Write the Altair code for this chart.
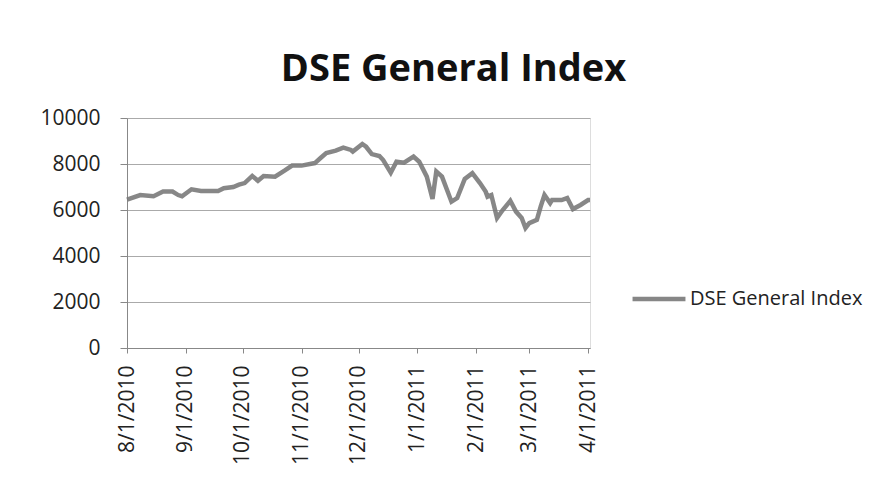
import altair as alt
import pandas as pd

dates = [
    "2010-08-01", "2010-08-08", "2010-08-15", "2010-08-20", "2010-08-25", "2010-08-28",
    "2010-08-30", "2010-09-04", "2010-09-09", "2010-09-18", "2010-09-21", "2010-09-26",
    "2010-09-29", "2010-10-02", "2010-10-06", "2010-10-09", "2010-10-12", "2010-10-18",
    "2010-10-23", "2010-10-27", "2010-11-01", "2010-11-08", "2010-11-11", "2010-11-14",
    "2010-11-19", "2010-11-23", "2010-11-27", "2010-11-28", "2010-12-03", "2010-12-05",
    "2010-12-08", "2010-12-12", "2010-12-14", "2010-12-18", "2010-12-21", "2010-12-25",
    "2010-12-30", "2011-01-02", "2011-01-06", "2011-01-09", "2011-01-11", "2011-01-14",
    "2011-01-19", "2011-01-22", "2011-01-26", "2011-01-30", "2011-02-03", "2011-02-06",
    "2011-02-07", "2011-02-09", "2011-02-12", "2011-02-15", "2011-02-19", "2011-02-22",
    "2011-02-25", "2011-02-27", "2011-03-01", "2011-03-05", "2011-03-07", "2011-03-09",
    "2011-03-12", "2011-03-13", "2011-03-18", "2011-03-21", "2011-03-24", "2011-03-28",
    "2011-04-01", "2011-04-02",
]
values = [
    6450, 6650, 6600, 6800, 6800, 6650,
    6600, 6900, 6830, 6830, 6950, 7000,
    7100, 7170, 7480, 7270, 7480, 7450,
    7710, 7930, 7930, 8040, 8260, 8480,
    8580, 8710, 8610, 8540, 8870, 8750,
    8430, 8350, 8170, 7620, 8100, 8060,
    8320, 8100, 7450, 6480, 7670, 7450,
    6360, 6520, 7350, 7600, 7170, 6800,
    6580, 6650, 5650, 6000, 6400, 5930,
    5650, 5220, 5430, 5570, 6150, 6650,
    6300, 6430, 6430, 6520, 6040, 6220,
    6430, 6430,
]
series_name = "DSE General Index"
tick_dates = [(2010, 8), (2010, 9), (2010, 10), (2010, 11), (2010, 12),
              (2011, 1), (2011, 2), (2011, 3), (2011, 4)]
y_ticks = [0, 2000, 4000, 6000, 8000, 10000]

df = pd.DataFrame({"date": dates, "value": values, "series": series_name})

FONT = "Open Sans"

x_axis = alt.Axis(
    values=[alt.DateTime(year=y, month=m, date=1, utc=True) for y, m in tick_dates],
    format="%-m/%-d/%Y",
    labelAngle=-90,
    labelFontSize=21,
    labelColor="#222222",
    labelFont=FONT,
    tickSize=5,
    tickColor="#888888",
    domainColor="#888888",
    labelPadding=12,
    grid=False,
    title=None,
)
y_axis = alt.Axis(
    values=y_ticks,
    format="d",
    labelFontSize=21,
    labelColor="#222222",
    labelFont=FONT,
    tickSize=7,
    tickColor="#888888",
    domainColor="#888888",
    labelPadding=20,
    gridColor="#aaaaaa",
    gridWidth=1,
    title=None,
)

chart = alt.Chart(df).mark_line(strokeWidth=4.5, opacity=0.9).encode(
    x=alt.X("date:T", axis=x_axis,
            scale=alt.Scale(type="utc", domain=[alt.DateTime(year=2010, month=8, date=1, utc=True),
                                               alt.DateTime(year=2011, month=4, date=2, utc=True)])),
    y=alt.Y("value:Q", axis=y_axis, scale=alt.Scale(domain=[0, 10000])),
    color=alt.Color("series:N", scale=alt.Scale(range=["#7a7a7a"]),
                    legend=alt.Legend(
                        title=None, orient="none", legendX=503, legendY=152,
                        symbolType="stroke", symbolSize=2800, symbolStrokeWidth=4.5,
                        labelFontSize=20, labelFont=FONT, labelColor="#222222",
                        labelLimit=400, labelOffset=2)),
).properties(
    width=463,
    height=230,
    autosize=alt.AutoSizeParams(type="none"),
    padding={"left": 119, "top": 110, "right": 280, "bottom": 140},
    title=alt.Title(series_name, fontSize=38, font=FONT, fontWeight="bold",
                    color="#111111", anchor="middle", dx=95, offset=18),
).configure_view(stroke=None).configure(background="white")

chart.save("out.html", embed_options={"renderer": "svg", "actions": False})
